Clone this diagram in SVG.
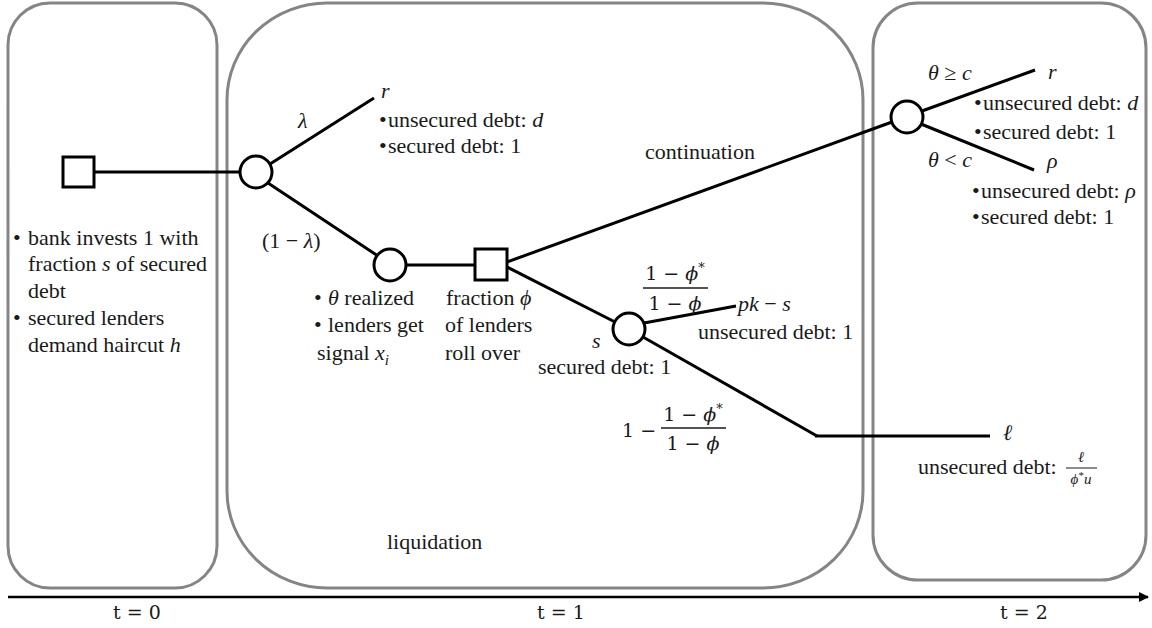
<svg xmlns="http://www.w3.org/2000/svg" width="1152" height="628" viewBox="0 0 1152 628">
<defs>
<style>
.box{fill:none;stroke:#858585;stroke-width:3}
.ln{fill:none;stroke:#000;stroke-width:3}
.nd{fill:#fff;stroke:#000;stroke-width:3}
text{font-family:"Liberation Serif","Times New Roman",serif;font-size:22px;fill:#1a1a1a}
.i{font-style:italic}
.m{font-family:"DejaVu Serif","Liberation Serif",serif;font-size:19px}
.sm{font-size:15px}
</style>
<marker id="ah" viewBox="0 0 10 10" refX="9" refY="5" markerWidth="4" markerHeight="4" orient="auto" markerUnits="strokeWidth">
<path d="M0,0 L10,5 L0,10 z" fill="#000"/>
</marker>
</defs>
<rect width="1152" height="628" fill="#fff"/>

<g id="periods">
<rect class="box" x="8" y="3" width="209" height="585" rx="42" ry="42"/>
<rect class="box" x="227" y="3" width="636" height="585" rx="100" ry="97"/>
<rect class="box" x="873" y="3" width="273" height="577" rx="45" ry="45"/>
</g>

<g id="axis">
<line x1="8" y1="597" x2="1148" y2="597" stroke="#000" stroke-width="2.5" marker-end="url(#ah)"/>
<text class="m" x="113" y="619">t = 0</text>
<text class="m" x="537" y="619">t = 1</text>
<text class="m" x="1000" y="619">t = 2</text>
</g>

<g id="connectors">
<line class="ln" x1="94" y1="172" x2="240" y2="172"/>
<line class="ln" x1="270" y1="164" x2="374" y2="98"/>
<line class="ln" x1="268" y1="183" x2="378" y2="256"/>
<line class="ln" x1="406" y1="265" x2="475" y2="265"/>
<line class="ln" x1="507" y1="262" x2="892" y2="122"/>
<line class="ln" x1="507" y1="267" x2="615" y2="322"/>
<line class="ln" x1="644" y1="323" x2="736" y2="306"/>
<line class="ln" x1="643" y1="337" x2="817" y2="436"/>
<line class="ln" x1="815" y1="436" x2="990" y2="436"/>
<line class="ln" x1="922" y1="111" x2="1035" y2="70"/>
<line class="ln" x1="921" y1="124" x2="1034" y2="170"/>
</g>

<g id="start">
<rect class="nd" x="63" y="157" width="31" height="30"/>
<text x="13" y="245">•</text><text x="28" y="245">bank invests 1 with</text>
<text x="28" y="271">fraction <tspan class="i">s</tspan> of secured</text>
<text x="28" y="298">debt</text>
<text x="13" y="325">•</text><text x="28" y="325">secured lenders</text>
<text x="28" y="352">demand haircut <tspan class="i">h</tspan></text>
</g>

<g id="chance1">
<circle class="nd" cx="256" cy="172" r="16"/>
<text class="i" x="298" y="128">λ</text>
<text x="262" y="248">(1 − <tspan class="i">λ</tspan>)</text>
</g>

<g id="outcome-r1">
<text class="i" x="381" y="98">r</text>
<text x="379" y="127">•</text><text x="388" y="127">unsecured debt: <tspan class="i">d</tspan></text>
<text x="379" y="153">•</text><text x="388" y="153">secured debt: 1</text>
</g>

<g id="chance2">
<circle class="nd" cx="390" cy="265" r="16"/>
<text x="314" y="305">•</text><text x="328" y="305"><tspan class="i">θ</tspan> realized</text>
<text x="314" y="332">•</text><text x="328" y="332">lenders get</text>
<text x="317" y="360">signal <tspan class="i">x</tspan><tspan class="i sm" dy="5">i</tspan></text>
</g>

<g id="decision2">
<rect class="nd" x="475" y="249" width="32" height="31"/>
<text x="446" y="305">fraction <tspan class="i">ϕ</tspan></text>
<text x="445" y="332">of lenders</text>
<text x="445" y="360">roll over</text>
<text x="645" y="159">continuation</text>
</g>

<g id="chance3">
<circle class="nd" cx="629" cy="329" r="16"/>
<text class="i" x="592" y="348">s</text>
<text x="538" y="374">secured debt: 1</text>
<text class="m" x="675" y="280" text-anchor="middle">1 − <tspan class="i">ϕ</tspan><tspan dy="-8" font-size="13">*</tspan></text>
<line x1="643" y1="288" x2="708" y2="288" stroke="#1a1a1a" stroke-width="1.3"/>
<text class="m" x="675" y="310" text-anchor="middle">1 − <tspan class="i">ϕ</tspan></text>
<text class="m" x="622" y="437">1 −</text>
<text class="m" x="693" y="421" text-anchor="middle">1 − <tspan class="i">ϕ</tspan><tspan dy="-8" font-size="13">*</tspan></text>
<line x1="661" y1="428" x2="726" y2="428" stroke="#1a1a1a" stroke-width="1.3"/>
<text class="m" x="693" y="450" text-anchor="middle">1 − <tspan class="i">ϕ</tspan></text>
</g>

<g id="outcome-pk">
<text x="738" y="311"><tspan class="i">pk</tspan> − <tspan class="i">s</tspan></text>
<text x="698" y="339">unsecured debt: 1</text>
</g>

<g id="outcome-l">
<text class="i" x="1003" y="440">ℓ</text>
<text x="918" y="474">unsecured debt: </text>
<text class="i sm" x="1081" y="462" text-anchor="middle">ℓ</text>
<line x1="1066" y1="468" x2="1097" y2="468" stroke="#1a1a1a" stroke-width="1"/>
<text class="sm" x="1081" y="484" text-anchor="middle"><tspan class="i">ϕ</tspan><tspan font-size="11" dy="-5">*</tspan><tspan class="i" dy="5">u</tspan></text>
</g>

<g id="chance4">
<circle class="nd" cx="907" cy="117" r="16"/>
<text x="928" y="80"><tspan class="i">θ</tspan> ≥ <tspan class="i">c</tspan></text>
<text x="928" y="167"><tspan class="i">θ</tspan> &lt; <tspan class="i">c</tspan></text>
</g>

<g id="outcome-r2">
<text class="i" x="1048" y="79">r</text>
<text x="974" y="110">•</text><text x="983" y="110">unsecured debt: <tspan class="i">d</tspan></text>
<text x="974" y="139">•</text><text x="983" y="139">secured debt: 1</text>
</g>

<g id="outcome-rho">
<text class="i" x="1047" y="168">ρ</text>
<text x="972" y="198">•</text><text x="981" y="198">unsecured debt: <tspan class="i">ρ</tspan></text>
<text x="972" y="224">•</text><text x="981" y="224">secured debt: 1</text>
</g>

<g id="liquidation">
<text x="387" y="549">liquidation</text>
</g>
</svg>
